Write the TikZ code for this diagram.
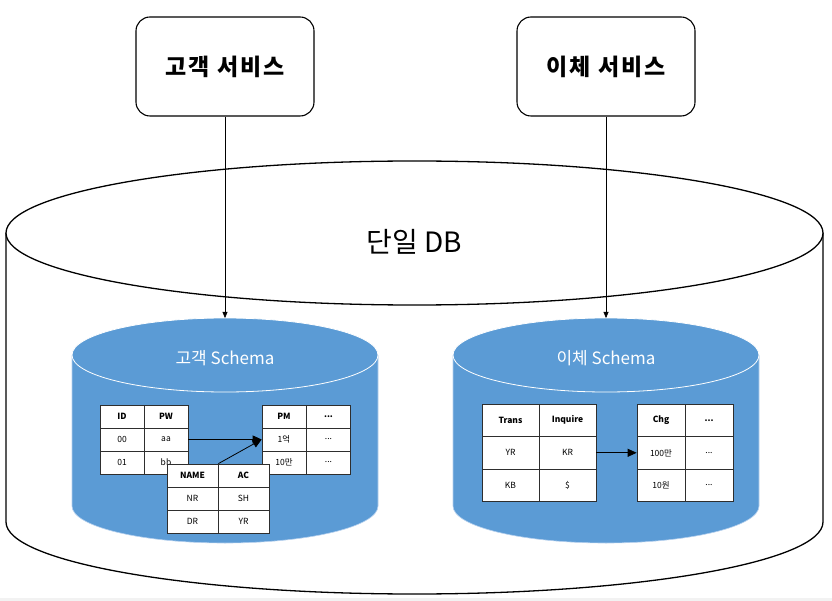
\documentclass[tikz,border=0pt]{standalone}
\usepackage{fontspec}
\setmainfont{Noto Sans CJK KR}
\usetikzlibrary{arrows.meta}
\definecolor{dbblue}{HTML}{5B9BD5}
\definecolor{blueedge}{HTML}{B5D0EE}
\definecolor{tline}{HTML}{2E2E2E}
\definecolor{bandgray}{HTML}{F2F2F2}
\tikzset{
  svc/.style={draw, line width=1.1pt, rounded corners=14pt, minimum width=178pt, minimum height=99pt, inner sep=0pt, font=\fontsize{23}{27}\selectfont\bfseries\addfontfeatures{LetterSpace=8}},
  cell/.style={draw=tline, fill=white, line width=0.7pt, inner sep=0pt, font=\fontsize{8.5}{9}\selectfont},
  hcell/.style={cell, font=\fontsize{8.5}{9}\selectfont\bfseries},
  sarrow/.style={-{Triangle[length=6pt,width=5pt]}, line width=0.5pt},
  tarrow/.style={-{Triangle[length=9pt,width=8pt]}, line width=0.8pt},
  schema/.style={text=white, font=\fontsize{17}{20}\selectfont},
}
\begin{document}
\begin{tikzpicture}[x=1pt,y=-1pt]
\useasboundingbox (0,0) rectangle (832,601);
\fill[bandgray] (0,598) rectangle (832,601);
% outer cylinder
\draw[line width=1.3pt, fill=white] (6,233) -- (6,522) arc[start angle=180,end angle=360,x radius=408.5pt,y radius=72pt] -- (823,233);
\draw[line width=1.3pt, fill=white] (414.5,233) ellipse[x radius=408.5pt, y radius=72pt];
\node[font=\fontsize{28}{33}\selectfont] (db) at (414,242) {단일 DB};
% left blue cylinder
\fill[dbblue] (72,355) -- (72,506) arc[start angle=180,end angle=360,x radius=153pt,y radius=37pt] -- (378,355) -- cycle;
\draw[blueedge, line width=0.6pt] (72,355) -- (72,506) arc[start angle=180,end angle=360,x radius=153pt,y radius=37pt] -- (378,355);
\draw[white, line width=0.8pt, fill=dbblue] (225,355) ellipse[x radius=153pt,y radius=37pt];
\node[schema] (ls) at (225,358) {고객 Schema};
\coordinate (ltop) at (225,318);
% right blue cylinder
\fill[dbblue] (453,355) -- (453,506) arc[start angle=180,end angle=360,x radius=153pt,y radius=37pt] -- (759,355) -- cycle;
\draw[blueedge, line width=0.6pt] (453,355) -- (453,506) arc[start angle=180,end angle=360,x radius=153pt,y radius=37pt] -- (759,355);
\draw[white, line width=0.8pt, fill=dbblue] (606,355) ellipse[x radius=153pt,y radius=37pt];
\node[schema] (rs) at (606,358) {이체 Schema};
\coordinate (rtop) at (606,318);
% services
\node[svc] (svc1) at (225,66.5) {고객 서비스};
\node[svc] (svc2) at (606,66.5) {이체 서비스};
\draw[sarrow] (svc1.south) -- (ltop);
\draw[sarrow] (svc2.south) -- (rtop);
% left tables
\begin{scope}[every node/.append style={minimum width=44pt, minimum height=23pt}]
\node[hcell] (id0) at (122,416.5) {ID};
\node[hcell] (pw0) at (166,416.5) {PW};
\node[cell] (id1) at (122,439.5) {00};
\node[cell] (pw1) at (166,439.5) {aa};
\node[cell] (id2) at (122,462.5) {01};
\node[cell] (pw2) at (166,462.5) {bb};
\node[hcell] (pm0) at (284,416.5) {PM};
\node[hcell] (pe0) at (328.5,416.5) {...};
\node[cell] (pm1) at (284,439.5) {1억};
\node[cell] (pe1) at (328.5,439.5) {...};
\node[cell] (pm2) at (284,462.5) {10만};
\node[cell] (pe2) at (328.5,462.5) {...};
\end{scope}
\begin{scope}[every node/.append style={minimum width=51pt, minimum height=23pt}]
\node[hcell] (nm0) at (192.5,475.5) {NAME};
\node[hcell] (ac0) at (243.5,475.5) {AC};
\node[cell] (nm1) at (192.5,498.5) {NR};
\node[cell] (ac1) at (243.5,498.5) {SH};
\node[cell] (nm2) at (192.5,521.5) {DR};
\node[cell] (ac2) at (243.5,521.5) {YR};
\end{scope}
\draw[tarrow] (pw1.east) -- (pm1.west);
\draw[tarrow] (nm0.north east) -- (pm1.west);
% right tables
\begin{scope}[every node/.append style={minimum width=57pt, minimum height=32.5pt}]
\node[hcell] (tr0) at (510.5,420.3) {Trans};
\node[hcell] (iq0) at (567.5,420.3) {Inquire};
\node[cell] (tr1) at (510.5,452.8) {YR};
\node[cell] (iq1) at (567.5,452.8) {KR};
\node[cell] (tr2) at (510.5,485.3) {KB};
\node[cell] (iq2) at (567.5,485.3) {\$};
\end{scope}
\begin{scope}[every node/.append style={minimum width=48pt, minimum height=32.5pt}]
\node[hcell] (cg0) at (661,420.3) {Chg};
\node[hcell] (ce0) at (709,420.3) {...};
\node[cell] (cg1) at (661,452.8) {100만};
\node[cell] (ce1) at (709,452.8) {...};
\node[cell] (cg2) at (661,485.3) {10원};
\node[cell] (ce2) at (709,485.3) {...};
\end{scope}
\draw[tarrow] (iq1.east) -- (cg1.west);
\end{tikzpicture}
\end{document}
